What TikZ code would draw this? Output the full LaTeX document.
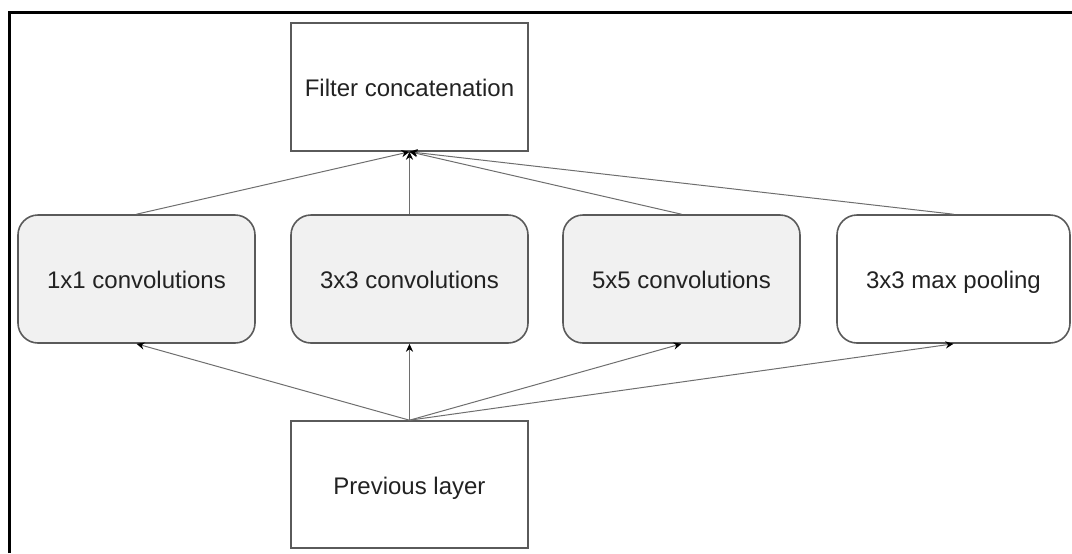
\documentclass[tikz,border=0pt]{standalone}
\usepackage{fontspec}
\setmainfont{Liberation Sans}
\usetikzlibrary{arrows.meta}
\definecolor{boxc}{HTML}{5A5A5A}
\definecolor{linec}{HTML}{6E6E6E}
\definecolor{fillc}{HTML}{F1F1F1}
\definecolor{txt}{HTML}{222222}
\begin{document}
\begin{tikzpicture}[x=0.5pt,y=-0.5pt,
  box/.style={draw=boxc, line width=0.8pt, minimum width=118.5pt, minimum height=64pt, inner sep=0pt, font=\fontsize{12}{14}\selectfont, text=txt, text height=12pt, text depth=2.4pt},
  rbox/.style={box, rounded corners=10pt},
  conv/.style={rbox, fill=fillc},
  conn/.style={draw=linec, line width=0.5pt, -{Stealth[length=4pt,width=3.6pt,color=black]}}
]
\useasboundingbox (0,0) rectangle (1072,553);
\draw[line width=1.5pt] (9,553) -- (9,12) -- (1072,12);

\node[box] (fc) at (409.5,87) {Filter concatenation};
\node[conv] (b1) at (136.5,279) {1x1 convolutions};
\node[conv] (b2) at (409.5,279) {3x3 convolutions};
\node[conv] (b3) at (681.5,279) {5x5 convolutions};
\node[rbox, minimum width=116.5pt] (b4) at (953.5,279) {3x3 max pooling};
\node[box, minimum height=63.5pt] (pl) at (409.5,484.5) {Previous layer};

\foreach \b in {b1,b2,b3,b4}{
  \draw[conn] (\b.north) -- (fc.south);
  \draw[conn] (pl.north) -- (\b.south);
}
\end{tikzpicture}
\end{document}
